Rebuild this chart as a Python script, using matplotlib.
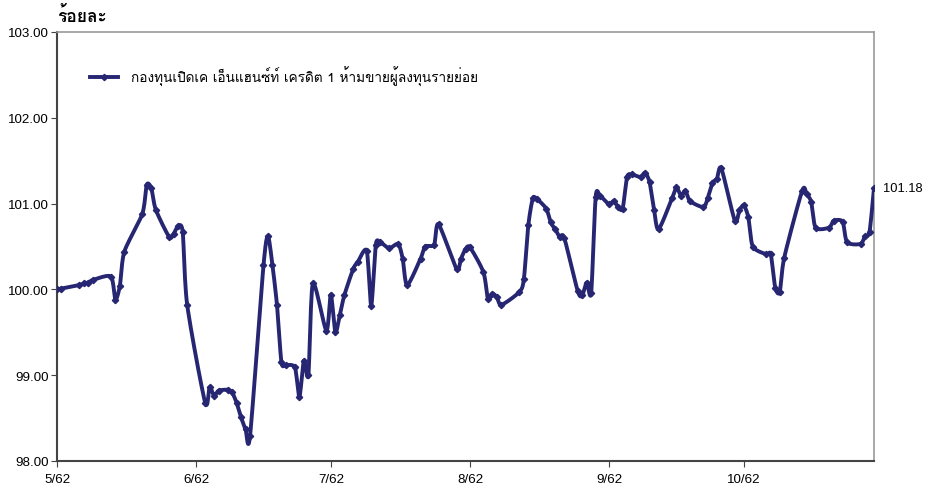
import matplotlib
matplotlib.use('Agg')
import matplotlib.pyplot as plt
import matplotlib.dates as mdates
import numpy as np
import pandas as pd

plt.rcParams['font.family'] = ['Liberation Sans', 'Loma']

# ข้อมูล: วันที่นับจาก 1 พ.ค. 2562 และมูลค่า (ร้อยละ)
start = '2019-05-01'
day_offset = [0, 1, 5, 6, 7, 8, 12, 13, 14, 15, 19, 20, 21, 22, 25, 26, 27, 28, 29,
              33, 34, 35, 36, 38, 39, 40, 41, 42, 43, 46, 47, 48, 49, 50, 51, 53, 54,
              55, 56, 57, 60, 61, 62, 63, 64, 66, 67, 69, 70, 71, 72, 74, 76, 77, 78,
              81, 82, 84, 85, 89, 90, 91, 92, 95, 96, 97, 98, 99, 103, 104, 105, 106,
              107, 109, 110, 111, 112, 113, 116, 117, 118, 119, 120, 121, 123, 124,
              125, 126, 127, 128, 130, 131, 132, 133, 134, 137, 138, 139, 140, 141,
              144, 145, 146, 147, 148, 151, 152, 153, 154, 155, 158, 159, 160, 161,
              162, 166, 167, 168, 169, 172, 173, 175, 176, 179, 180, 181, 182]
nav = [100.00, 100.01, 100.05, 100.07, 100.08, 100.11, 100.15, 99.88, 100.04, 100.44,
       100.88, 101.22, 101.18, 100.93, 100.61, 100.65, 100.74, 100.67, 99.82,
       98.68, 98.86, 98.76, 98.82, 98.83, 98.80, 98.68, 98.51, 98.37, 98.29,
       100.28, 100.62, 100.28, 99.82, 99.15, 99.12, 99.09, 98.75,
       99.17, 99.00, 100.07, 99.52, 99.94, 99.50, 99.70, 99.93, 100.24, 100.32,
       100.45, 99.81, 100.52, 100.55, 100.48, 100.53, 100.36, 100.05,
       100.36, 100.50, 100.52, 100.76, 100.24, 100.36, 100.47, 100.49,
       100.20, 99.89, 99.95, 99.91, 99.82, 99.97, 100.12, 100.75, 101.06,
       101.05, 100.94, 100.78, 100.70, 100.61, 100.60, 99.98, 99.93, 100.08,
       99.96, 101.08, 101.09, 100.99, 101.03, 100.96, 100.94, 101.31, 101.34,
       101.31, 101.36, 101.25, 100.93, 100.70, 101.06, 101.19, 101.09, 101.15,
       101.03, 100.96, 101.07, 101.24, 101.29, 101.41, 100.80, 100.92, 100.98,
       100.84, 100.50, 100.41, 100.41, 100.02, 99.97, 100.37, 101.15, 101.11,
       101.02, 100.72, 100.72, 100.80, 100.79, 100.55, 100.53, 100.62, 100.67,
       101.18]
series_name = 'กองทุนเปิดเค เอ็นแฮนซ์ท์ เครดิต 1 ห้ามขายผู้ลงทุนรายย่อย'
month_ticks = ['2019-05-01', '2019-06-01', '2019-07-01', '2019-08-01',
               '2019-09-01', '2019-10-01']
month_labels = ['5/62', '6/62', '7/62', '8/62', '9/62', '10/62']

dates = pd.Timestamp(start) + pd.to_timedelta(day_offset, unit='D')
line_color = '#262673'


# เส้นโค้งแบบ smoothed line (Catmull-Rom ผ่านทุกจุดข้อมูล)
def smooth(x, y, n=12, k=8):
    px = np.concatenate([[x[0]], x, [x[-1]]])
    py = np.concatenate([[y[0]], y, [y[-1]]])
    t = np.linspace(0, 1, n, endpoint=False)[:, None]
    i = np.arange(1, len(x))
    x0, x1, x2, x3 = px[i - 1], px[i], px[i + 1], px[i + 2]
    y0, y1, y2, y3 = py[i - 1], py[i], py[i + 1], py[i + 2]
    bx1, bx2 = x1 + (x2 - x0) / k, x2 - (x3 - x1) / k
    by1, by2 = y1 + (y2 - y0) / k, y2 - (y3 - y1) / k
    cx = (1 - t) ** 3 * x1 + 3 * (1 - t) ** 2 * t * bx1 + 3 * (1 - t) * t ** 2 * bx2 + t ** 3 * x2
    cy = (1 - t) ** 3 * y1 + 3 * (1 - t) ** 2 * t * by1 + 3 * (1 - t) * t ** 2 * by2 + t ** 3 * y2
    return (np.append(cx.T.ravel(), x[-1]), np.append(cy.T.ravel(), y[-1]))


fig = plt.figure(figsize=(9.34, 4.85), dpi=100)
ax = fig.add_axes([57 / 934, 23 / 485, (874 - 57) / 934, (462 - 33) / 485])

xnum = mdates.date2num(dates)
sx, sy = smooth(xnum, np.array(nav))
ax.plot(sx, sy, color=line_color, lw=2.8, solid_joinstyle='round',
        solid_capstyle='round', zorder=3)
ax.plot(xnum, nav, ls='none', marker='D', ms=3.2, color=line_color, zorder=4)
ax.plot([], [], color=line_color, lw=2.8, marker='D', ms=3.2, label=series_name)

ax.set_xlim(mdates.date2num(pd.Timestamp(start)), xnum[-1])
ax.set_ylim(98, 103)
ax.set_yticks([98, 99, 100, 101, 102, 103])
ax.yaxis.set_major_formatter(plt.FormatStrFormatter('%.2f'))
ax.set_xticks(mdates.date2num(pd.to_datetime(month_ticks)))
ax.set_xticklabels(month_labels)
ax.tick_params(axis='both', labelsize=9.6, length=4, color='#444444')
ax.tick_params(axis='y', pad=2)
ax.tick_params(axis='x', pad=5)

for side in ['left', 'bottom']:
    ax.spines[side].set_color('#444444')
    ax.spines[side].set_linewidth(1.5)
for side in ['top', 'right']:
    ax.spines[side].set_color('#999999')
    ax.spines[side].set_linewidth(1.2)

ax.text(xnum[-1] + 2, nav[-1], '%.2f' % nav[-1],
        va='center', ha='left', fontsize=9.3)
fig.text(57 / 934, 1 - 16 / 485, 'ร้อยละ', fontsize=12.5, fontweight='bold',
         va='center', ha='left', family=['Loma', 'Liberation Sans'])

ax.legend(loc='upper left', bbox_to_anchor=(0.025, 0.95), frameon=False,
          handlelength=2.1, handletextpad=0.9,
          prop={'family': ['Loma', 'Liberation Sans'], 'size': 9.8})

fig.savefig('out.png', dpi=100)
